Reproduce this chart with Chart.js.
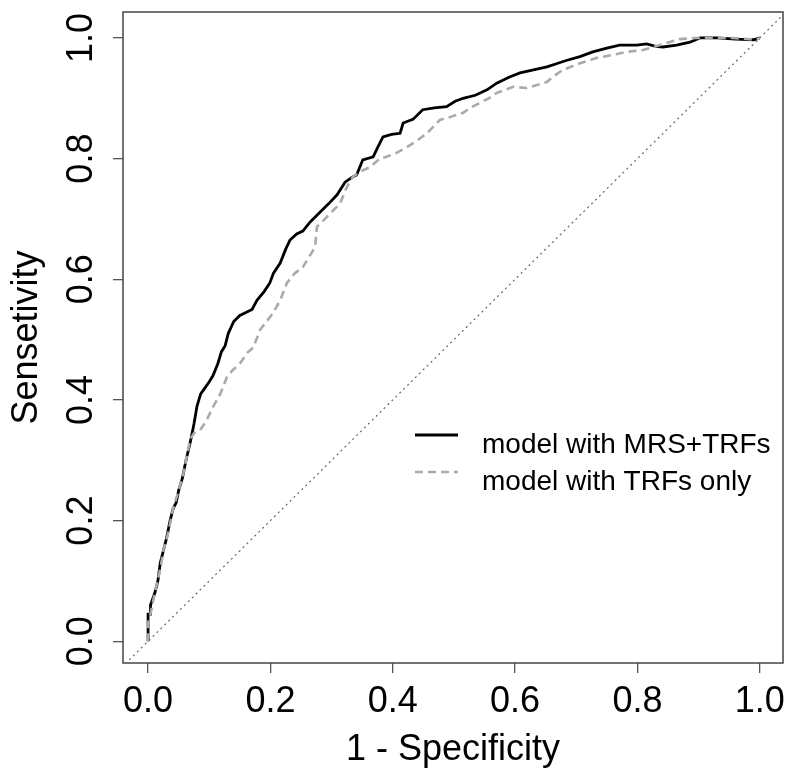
<!DOCTYPE html>
<html>
<head>
<meta charset="utf-8">
<script src="https://cdn.jsdelivr.net/npm/chart.js@4.4.0/dist/chart.umd.min.js"></script>
<style>
  body { margin: 0; background: #fff; }
</style>
</head>
<body>
<canvas id="roc_chart" width="800" height="781"></canvas>
<script>
// ROC points: 1 - specificity (x) and sensitivity (y)
var mrsFpr  = [0, 0, 0.004, 0.004, 0.011, 0.016, 0.02, 0.025, 0.03, 0.036, 0.041, 0.046, 0.05, 0.056, 0.062, 0.069, 0.075, 0.08, 0.086, 0.093, 0.1, 0.106, 0.114, 0.12, 0.126, 0.131, 0.14, 0.15, 0.16, 0.17, 0.178, 0.19, 0.199, 0.205, 0.216, 0.225, 0.232, 0.243, 0.253, 0.265, 0.281, 0.295, 0.309, 0.322, 0.335, 0.341, 0.351, 0.368, 0.376, 0.384, 0.398, 0.412, 0.417, 0.433, 0.449, 0.468, 0.488, 0.502, 0.515, 0.535, 0.554, 0.57, 0.59, 0.608, 0.63, 0.652, 0.67, 0.685, 0.706, 0.727, 0.75, 0.771, 0.799, 0.815, 0.83, 0.842, 0.864, 0.886, 0.902, 0.93, 0.96, 0.99, 1.0];
var mrsSens = [0, 0.045, 0.045, 0.06, 0.08, 0.1, 0.13, 0.15, 0.17, 0.2, 0.22, 0.23, 0.25, 0.27, 0.3, 0.33, 0.36, 0.39, 0.41, 0.42, 0.43, 0.44, 0.46, 0.48, 0.49, 0.51, 0.53, 0.54, 0.545, 0.55, 0.565, 0.58, 0.594, 0.61, 0.627, 0.65, 0.665, 0.675, 0.68, 0.695, 0.711, 0.725, 0.74, 0.761, 0.77, 0.773, 0.798, 0.803, 0.82, 0.836, 0.84, 0.842, 0.859, 0.865, 0.881, 0.884, 0.886, 0.895, 0.9, 0.905, 0.914, 0.925, 0.935, 0.942, 0.947, 0.952, 0.958, 0.963, 0.969, 0.977, 0.983, 0.988, 0.988, 0.99, 0.986, 0.985, 0.988, 0.993, 1.0, 1.0, 0.998, 0.997, 1.0];

var trfFpr  = [0, 0, 0.005, 0.011, 0.02, 0.025, 0.033, 0.041, 0.05, 0.058, 0.064, 0.069, 0.075, 0.085, 0.095, 0.106, 0.118, 0.129, 0.139, 0.15, 0.162, 0.172, 0.183, 0.199, 0.204, 0.216, 0.227, 0.24, 0.253, 0.265, 0.273, 0.276, 0.292, 0.314, 0.325, 0.335, 0.35, 0.363, 0.379, 0.39, 0.407, 0.423, 0.44, 0.456, 0.477, 0.497, 0.515, 0.528, 0.542, 0.557, 0.57, 0.597, 0.619, 0.652, 0.665, 0.678, 0.706, 0.734, 0.76, 0.783, 0.809, 0.842, 0.869, 0.897, 0.923, 0.956, 0.995, 1.0];
var trfSens = [0, 0.03, 0.05, 0.08, 0.12, 0.15, 0.18, 0.22, 0.25, 0.28, 0.31, 0.335, 0.345, 0.35, 0.365, 0.388, 0.41, 0.438, 0.45, 0.46, 0.478, 0.487, 0.516, 0.537, 0.544, 0.565, 0.594, 0.61, 0.62, 0.64, 0.653, 0.687, 0.703, 0.726, 0.753, 0.77, 0.78, 0.786, 0.8, 0.803, 0.81, 0.819, 0.83, 0.842, 0.864, 0.87, 0.876, 0.885, 0.892, 0.9, 0.909, 0.919, 0.917, 0.927, 0.938, 0.947, 0.958, 0.967, 0.972, 0.977, 0.98, 0.99, 0.998, 1.0, 1.0, 1.0, 0.997, 1.0];

var chanceLine = [-0.05, 1.05];
var tickValues = [0, 0.2, 0.4, 0.6, 0.8, 1.0];

var fontFamily = "'Liberation Sans', Arial, sans-serif";

function toPoints(xs, ys) {
    return xs.map(function (x, i) { return { x: x, y: ys[i] }; });
}

// R-style full box around the plot region
var plotBox = {
    id: 'plotBox',
    beforeDatasetsDraw: function (chart) {
        var a = chart.chartArea;
        var ctx = chart.ctx;
        ctx.save();
        ctx.strokeStyle = '#444';
        ctx.lineWidth = 1.5;
        ctx.strokeRect(a.left, a.top, a.right - a.left, a.bottom - a.top);
        ctx.restore();
    }
};

// legend drawn inside the plot, without a frame
var insideLegend = {
    id: 'insideLegend',
    afterDraw: function (chart) {
        var ctx = chart.ctx;
        var items = [chart.data.datasets[0], chart.data.datasets[1]];
        ctx.save();
        ctx.font = '28px ' + fontFamily;
        ctx.textBaseline = 'alphabetic';
        items.forEach(function (ds, i) {
            var y = 435 + i * 37;
            ctx.strokeStyle = ds.borderColor;
            ctx.lineWidth = ds.borderWidth;
            ctx.setLineDash(ds.borderDash || []);
            ctx.beginPath();
            ctx.moveTo(415, y);
            ctx.lineTo(458, y);
            ctx.stroke();
            ctx.setLineDash([]);
            ctx.fillStyle = '#000';
            ctx.fillText(ds.label, 482, y + 18);
        });
        ctx.restore();
    }
};

var ctx = document.getElementById('roc_chart').getContext('2d');

var roc_chart = new Chart(ctx, {
    type: 'line',
    data: {
        datasets: [{
            label: 'model with MRS+TRFs',
            data: toPoints(mrsFpr, mrsSens),
            borderColor: '#000000',
            borderWidth: 2.8,
            pointRadius: 0,
            tension: 0,
            order: 1
        }, {
            label: 'model with TRFs only',
            data: toPoints(trfFpr, trfSens),
            borderColor: '#aaaaaa',
            borderWidth: 2.6,
            borderDash: [8, 5],
            pointRadius: 0,
            tension: 0,
            order: 0
        }, {
            label: 'chance',
            data: toPoints(chanceLine, chanceLine),
            borderColor: '#666666',
            borderWidth: 1.2,
            borderDash: [2, 3.5],
            pointRadius: 0,
            clip: 0,
            order: 2
        }]
    },
    options: {
        responsive: false,
        animation: false,
        events: [],
        layout: { padding: { top: 12, right: 17, bottom: 0, left: 0 } },
        plugins: {
            legend: { display: false },
            tooltip: { enabled: false }
        },
        scales: {
            x: {
                type: 'linear',
                min: -0.041,
                max: 1.038,
                afterFit: function (scale) {
                    scale.height = 118;
                    scale.paddingLeft = 0;
                    scale.paddingRight = 0;
                },
                afterBuildTicks: function (scale) {
                    scale.ticks = tickValues.map(function (v) { return { value: v }; });
                },
                border: { display: false },
                grid: { drawOnChartArea: false, drawTicks: true, tickLength: 10, tickColor: '#555', lineWidth: 1.3 },
                ticks: {
                    color: '#000',
                    padding: 7,
                    font: { family: fontFamily, size: 36 },
                    maxRotation: 0,
                    autoSkip: false,
                    callback: function (v) { return v.toFixed(1); }
                },
                title: {
                    display: true,
                    text: '1 - Specificity',
                    color: '#000',
                    font: { family: fontFamily, size: 36 },
                    padding: { top: 0, bottom: 9 }
                }
            },
            y: {
                type: 'linear',
                min: -0.036,
                max: 1.043,
                afterFit: function (scale) {
                    scale.width = 123;
                    scale.paddingTop = 0;
                    scale.paddingBottom = 0;
                },
                afterBuildTicks: function (scale) {
                    scale.ticks = tickValues.map(function (v) { return { value: v }; });
                },
                border: { display: false },
                grid: { drawOnChartArea: false, drawTicks: true, tickLength: 10, tickColor: '#555', lineWidth: 1.3 },
                ticks: {
                    color: '#000',
                    padding: 6,
                    crossAlign: 'center',
                    minRotation: 90,
                    maxRotation: 90,
                    font: { family: fontFamily, size: 36 },
                    autoSkip: false,
                    callback: function (v) { return v.toFixed(1); }
                },
                title: {
                    display: true,
                    text: 'Sensetivity',
                    color: '#000',
                    font: { family: fontFamily, size: 36 },
                    padding: { top: 5, bottom: 0 }
                }
            }
        }
    },
    plugins: [plotBox, insideLegend]
});
</script>
</body>
</html>
